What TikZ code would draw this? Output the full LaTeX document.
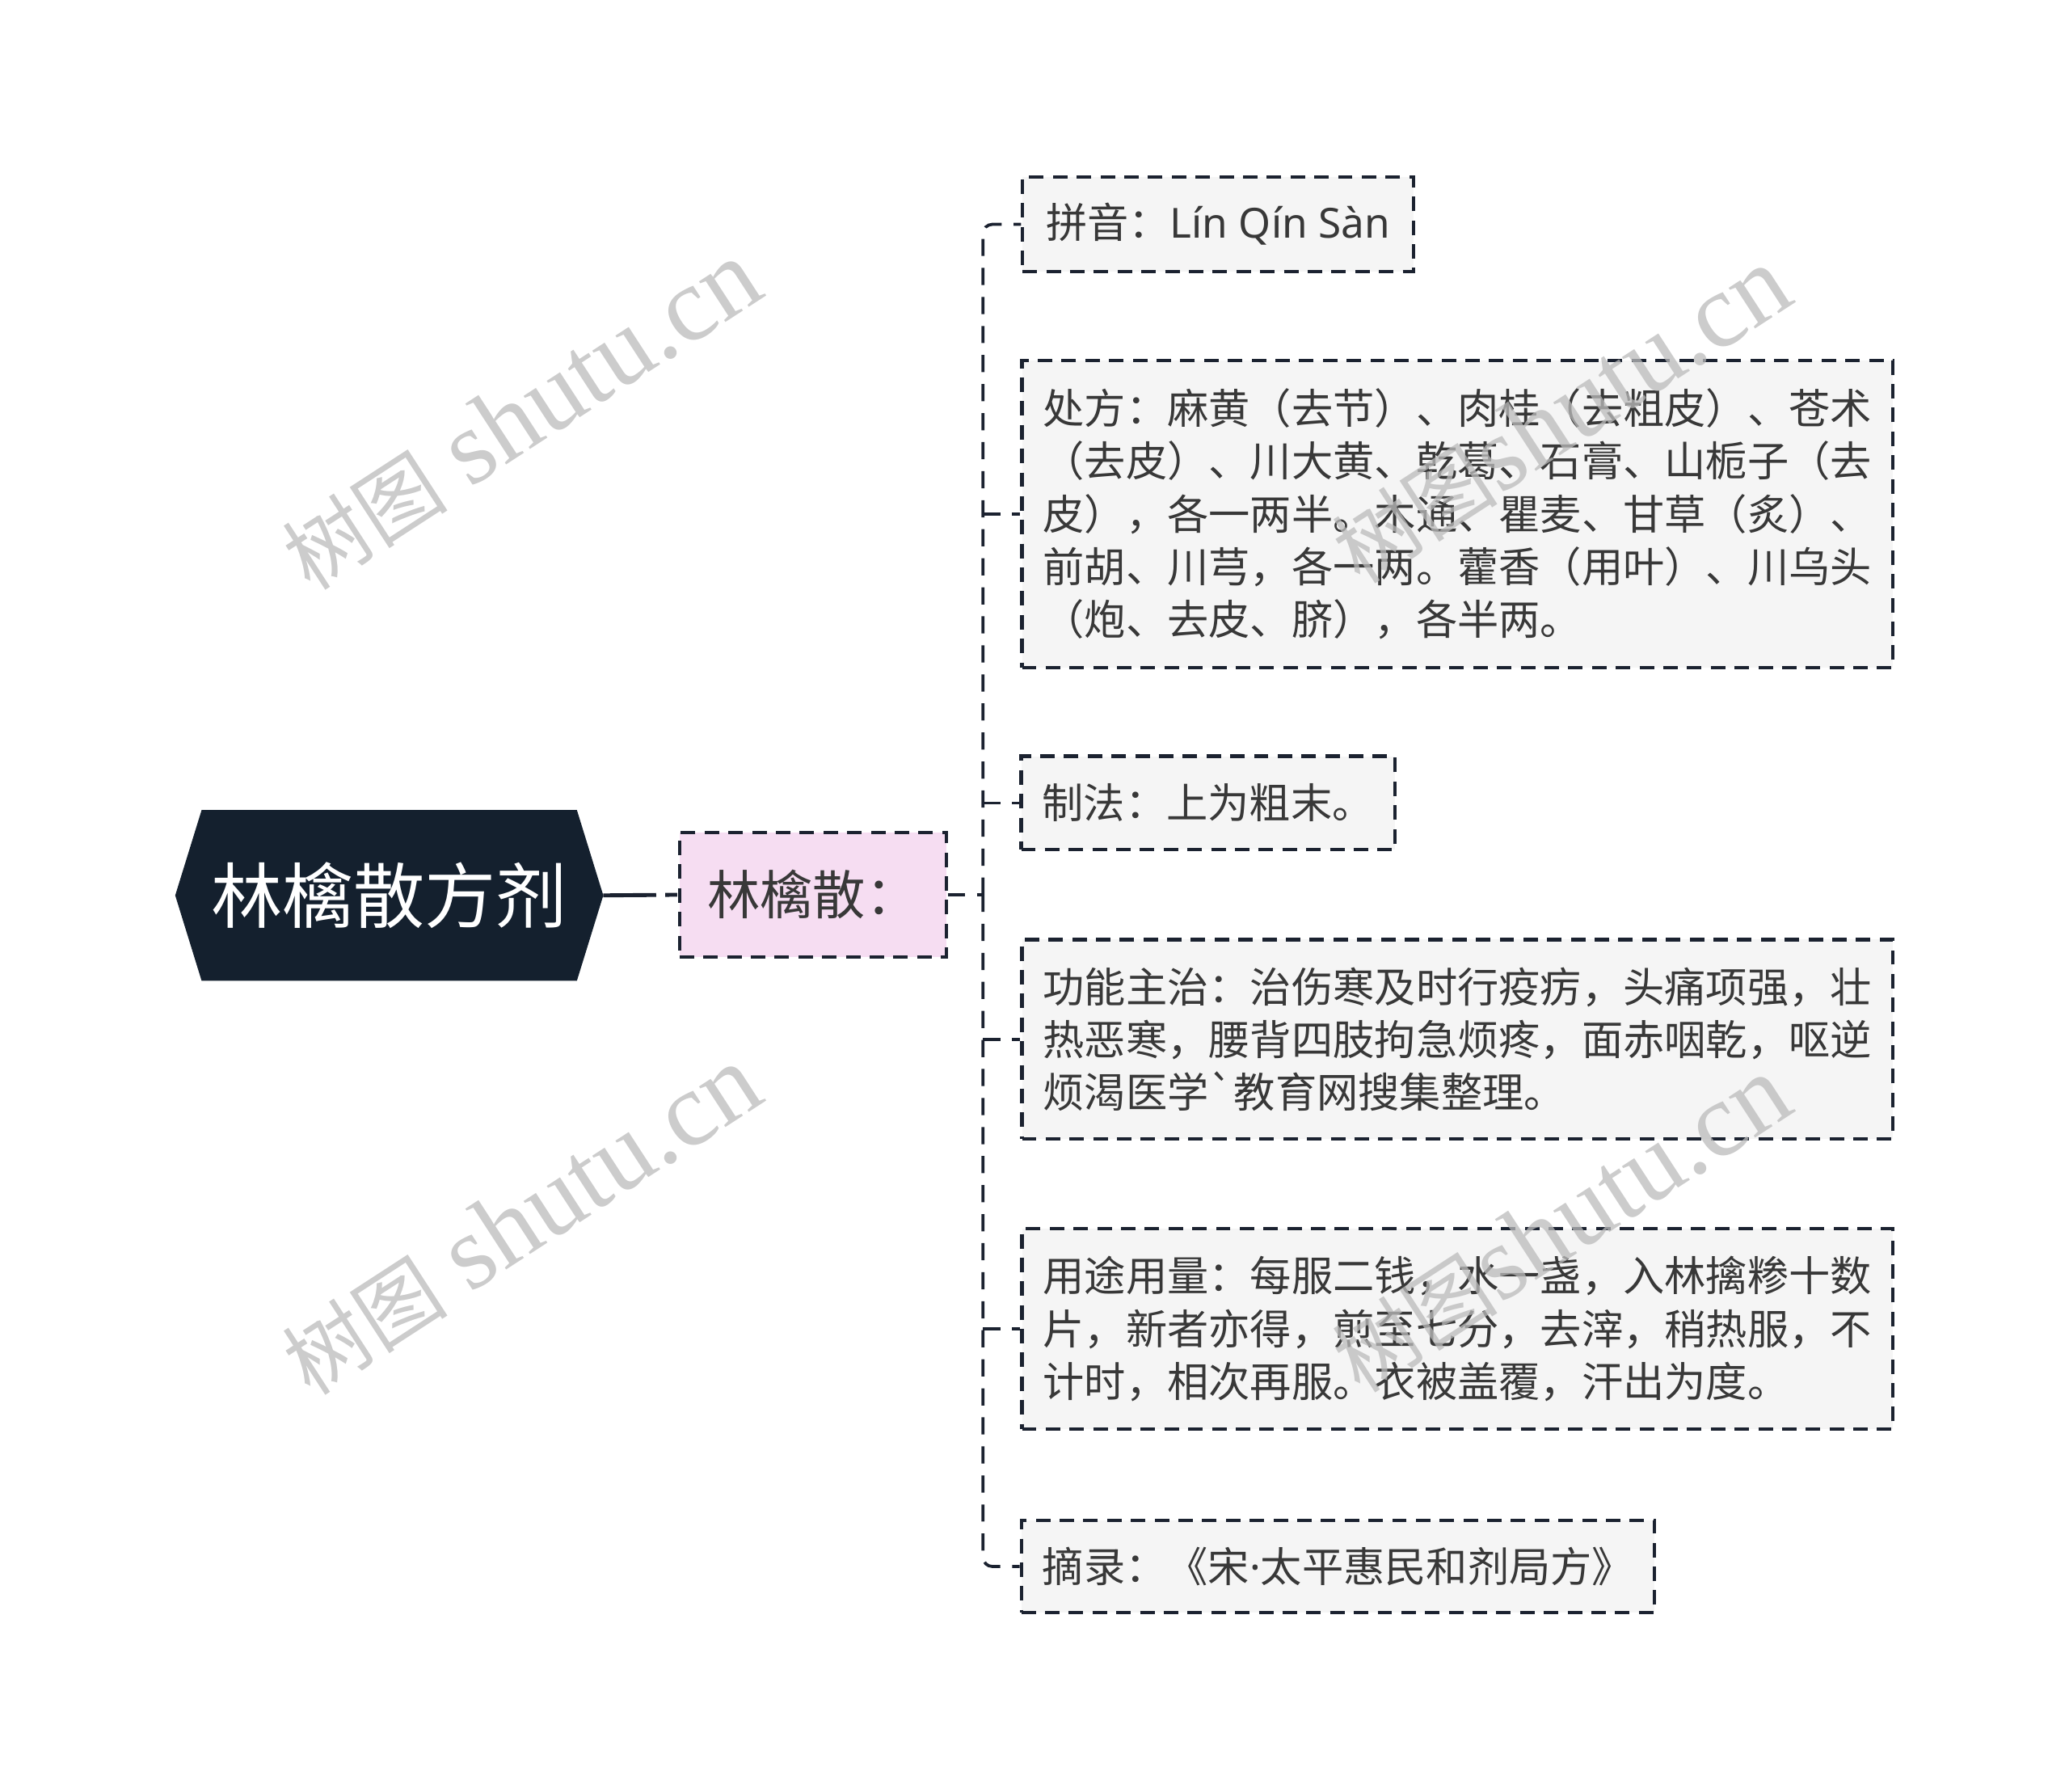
\documentclass[tikz,border=0pt]{standalone}
\usepackage{fontspec}
\setmainfont{Noto Sans CJK SC}[Ligatures=TeXOff]
\newfontfamily\wmserif{Liberation Serif}
\newfontfamily\latinsans{Noto Sans}
\usetikzlibrary{backgrounds}
\definecolor{linec}{HTML}{1B2230}
\definecolor{rootfill}{HTML}{14202E}
\definecolor{midfill}{HTML}{F6DDF2}
\definecolor{boxfill}{HTML}{F5F5F5}
\definecolor{txt}{HTML}{383838}
\definecolor{wmc}{HTML}{BBBBBB}
\begin{document}
\begin{tikzpicture}[x=1pt,y=-1pt,
  leaf/.style={draw=linec, line width=2.5pt, dash pattern=on 11pt off 7pt,
    fill=boxfill, text=txt, font=\fontsize{31.4}{40}\selectfont, align=left,
    inner xsep=16pt, inner ysep=0pt},
  conn/.style={draw=linec, line width=2.3pt, dash pattern=on 13pt off 9pt},
  wm/.style={text=wmc, opacity=0.75, font=\fontsize{80}{84}\selectfont, inner sep=0pt}]
\useasboundingbox (0,0) rectangle (1568,1357.3);
% root
\node[text=white, font=\fontsize{54}{60}\selectfont, minimum width=324pt, minimum height=129pt, inner sep=0pt] (root) at (295,678.5) {林檎散方剂};
\begin{scope}[on background layer]
\fill[rootfill] ([xshift=20pt]root.north west) -- ([xshift=-20pt]root.north east) -- (root.east)
  -- ([xshift=-20pt]root.south east) -- ([xshift=20pt]root.south west) -- (root.west) -- cycle;
\end{scope}
% middle
\node[draw=linec, line width=2.5pt, dash pattern=on 11pt off 7pt, fill=midfill, text=txt,
  font=\fontsize{40}{44}\selectfont, minimum width=202pt, minimum height=94pt, inner sep=0pt] (mid) at (616,678) {林檎散：};
% leaves
\node[leaf, minimum width=296pt, minimum height=72pt] (pinyin) at (923,170) {拼音：{\latinsans Lín Qín Sàn}};
\node[leaf, minimum width=659pt, minimum height=233pt] (chufang) at (1104.5,389.5) {处方：麻黄（去节）、肉桂（去粗皮）、苍术\\（去皮）、川大黄、乾葛、石膏、山栀子（去\\皮），各一两半。木通、瞿麦、甘草（炙）、\\前胡、川芎，各一两。藿香（用叶）、川乌头\\（炮、去皮、脐），各半两。};
\node[leaf, minimum width=281pt, minimum height=71pt] (zhifa) at (915.5,608.5) {制法：上为粗末。};
\node[leaf, minimum width=659pt, minimum height=151pt] (gongneng) at (1104.5,787.5) {功能主治：治伤寒及时行疫疠，头痛项强，壮\\热恶寒，腰背四肢拘急烦疼，面赤咽乾，呕逆\\烦渴医学`教育网搜集整理。};
\node[leaf, minimum width=659pt, minimum height=152pt] (yongtu) at (1104.5,1007) {用途用量：每服二钱，水一盏，入林擒糁十数\\片，新者亦得，煎至七分，去滓，稍热服，不\\计时，相次再服。衣被盖覆，汗出为度。};
\node[leaf, minimum width=478pt, minimum height=70pt] (zhailu) at (1014,1187) {摘录：《宋{\latinsans ·}太平惠民和剂局方》};
% connectors
\draw[draw=linec, line width=3pt, dash pattern=on 40pt off 7pt on 9pt off 7pt] (root.east) -- (mid.west);
\coordinate (j) at (745,678);
\draw[conn] (mid.east) -- (j);
\draw[conn, rounded corners=7pt] (j) |- (pinyin.west);
\draw[conn, rounded corners=7pt] (j) |- (zhailu.west);
\draw[conn] (j |- chufang.west) -- (chufang.west);
\draw[conn] (j |- zhifa.west) -- (zhifa.west);
\draw[conn] (j |- gongneng.west) -- (gongneng.west);
\draw[conn] (j |- yongtu.west) -- (yongtu.west);
% watermarks
\node[wm, rotate=33] (wm1) at (395,315) {{\fontsize{63}{66}\selectfont 树图} {\wmserif shutu.cn}};
\node[wm, rotate=33] (wm2) at (1183,315) {{\fontsize{63}{66}\selectfont 树图}{\wmserif shutu.cn}};
\node[wm, rotate=33] (wm3) at (395,925) {{\fontsize{63}{66}\selectfont 树图} {\wmserif shutu.cn}};
\node[wm, rotate=33] (wm4) at (1183,928) {{\fontsize{63}{66}\selectfont 树图}{\wmserif shutu.cn}};
\end{tikzpicture}
\end{document}
